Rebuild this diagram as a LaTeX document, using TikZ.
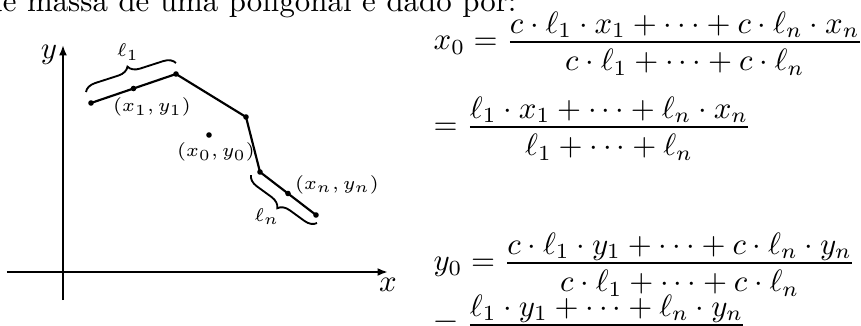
\documentclass[tikz,border=0pt]{standalone}
\usepackage{amsmath,amssymb}
\usetikzlibrary{arrows.meta,decorations.pathreplacing}

\newcommand{\numshift}{\fontdimen8\textfont2=5.3pt}
\newcommand{\frc}[2]{\frac{\smash[b]{#1}}{#2}}

\begin{document}
\begin{tikzpicture}[x=0.324pt, y=-0.324pt, >={Latex[length=3.4pt,width=2.6pt]}, dot/.style={circle, fill, inner sep=0pt, minimum size=1.8pt}, lbl/.style={inner sep=0pt, font=\fontsize{6}{7}\selectfont}, brc/.style={decorate, decoration={brace, amplitude=3.7pt}, line width=0.6pt}, eqn/.style={anchor=base west, inner sep=0pt}]
\useasboundingbox (0,0) rectangle (861,325);
\clip (0,0) rectangle (861,325);
\node[anchor=base west, inner sep=0pt] (txt) at (-15,11) {\makebox[172pt][s]{de massa de uma poligonal é dado por:}};
\node[eqn] (ex1) at (433,49.7) {$\numshift\displaystyle x_0 = \frc{c\cdot\ell_1\cdot x_1+\cdots+c\cdot\ell_n\cdot x_n}{c\cdot\ell_1+\cdots+c\cdot\ell_n}$};
\node[eqn] (ex2) at (433,134.7) {$\displaystyle = \frc{\ell_1\cdot x_1+\cdots+\ell_n\cdot x_n}{\ell_1+\cdots+\ell_n}$};
\node[eqn] (ey1) at (433,270.7) {$\displaystyle y_0 = \frc{c\cdot\ell_1\cdot y_1+\cdots+c\cdot\ell_n\cdot y_n}{c\cdot\ell_1+\cdots+c\cdot\ell_n}$};
\node[eqn] (ey2) at (433,332.7) {$\displaystyle = \frc{\ell_1\cdot y_1+\cdots+\ell_n\cdot y_n}{\ell_1+\cdots+\ell_n}$};
\coordinate (xo) at (7,272); \coordinate (xe) at (388,272);
\coordinate (yo) at (63,300); \coordinate (ye) at (63,45);
\draw[->, line width=0.9pt] (xo) -- (xe); \draw[->, line width=0.6pt] (yo) -- (ye);
\node (xlab) at (388,285) {$x$}; \node (ylab) at (49,55) {$y$};
\node[dot] (p1) at (91,103) {}; \node[dot] (m1) at (133.5,88.5) {}; \node[dot] (v1) at (176,74) {};
\node[dot] (v2) at (246,117) {}; \node[dot] (v3) at (260,172) {}; \node[dot] (mn) at (288,193.5) {};
\node[dot] (pn) at (316,215) {}; \node[dot] (g) at (209,135) {};
\draw[line width=0.7pt] (p1.center) -- (v1.center) -- (v2.center) -- (v3.center) -- (pn.center);
\coordinate (b1s) at (86,92); \coordinate (b1e) at (176,63);
\coordinate (bns) at (317,223); \coordinate (bne) at (251,175);
\draw[brc] (b1s) -- (b1e); \draw[brc] (bns) -- (bne);
\node[lbl] (l1) at (128,52) {$\ell_1$}; \node[lbl] (ln) at (267,217) {$\ell_n$};
\node[lbl] (q1) at (152,107) {$(x_1,y_1)$}; \node[lbl] (q0) at (216,152) {$(x_0,y_0)$};
\node[lbl] (qn) at (337,185) {$(x_n,y_n)$};
\end{tikzpicture}
\end{document}
